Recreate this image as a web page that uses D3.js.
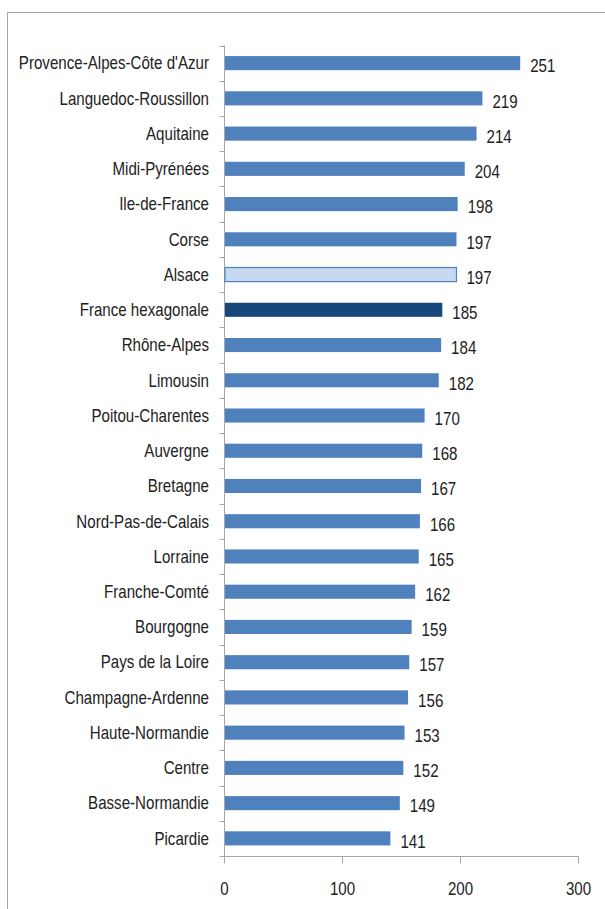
<!DOCTYPE html>
<html><head><meta charset="utf-8">
<script src="https://cdn.jsdelivr.net/npm/d3@7"></script>
<style>body{margin:0;background:#fff}svg{display:block}</style>
</head><body>
<script>
const categories = ["Provence-Alpes-Côte d'Azur","Languedoc-Roussillon","Aquitaine","Midi-Pyrénées","Ile-de-France","Corse","Alsace","France hexagonale","Rhône-Alpes","Limousin","Poitou-Charentes","Auvergne","Bretagne","Nord-Pas-de-Calais","Lorraine","Franche-Comté","Bourgogne","Pays de la Loire","Champagne-Ardenne","Haute-Normandie","Centre","Basse-Normandie","Picardie"];
const values = [251,219,214,204,198,197,197,185,184,182,170,168,167,166,165,162,159,157,156,153,152,149,141];
const xTicks = [0,100,200,300];
const highlight = {"Alsace":"light","France hexagonale":"dark"};

const W=605,H=909;
const svg=d3.select("body").append("svg").attr("width",W).attr("height",H);
svg.append("rect").attr("x",7.5).attr("y",12.5).attr("width",W).attr("height",H).attr("fill","none").attr("stroke","#a6a6a6").attr("stroke-width",1);

const font="'Liberation Sans',Arial,sans-serif";
const FS=18, SX=0.84;
function label(g,xx,yy,txt,anchor){
  const gg=g.append("g").attr("transform",`translate(${xx},${yy}) scale(${SX},1)`);
  gg.append("text").attr("x",0).attr("y",0).attr("dy","0.35em").attr("text-anchor",anchor)
    .attr("font-family",font).attr("font-size",FS).attr("fill","#222").text(txt);
}
const x=d3.scaleLinear().domain([0,300]).range([224,578]);
const y=d3.scaleBand().domain(categories).range([45.5,856]).paddingInner(0.6).paddingOuter(0.3);

// y axis
const yAxisG=svg.append("g").attr("transform","translate(224.5,0)");
yAxisG.append("line").attr("y1",45.5).attr("y2",856).attr("stroke","#a6a6a6");
d3.range(categories.length+1).forEach(i=>{
  const yy=Math.round(45.5+i*(856-45.5)/categories.length)+0.5;
  yAxisG.append("line").attr("x1",-5).attr("x2",0).attr("y1",yy).attr("y2",yy).attr("stroke","#a6a6a6");
});
categories.forEach(c=>{
  label(svg,209,y(c)+y.bandwidth()/2,c,"end");
});

// x axis
const xAxisG=svg.append("g").attr("transform","translate(0,856.5)");
xAxisG.append("line").attr("x1",224).attr("x2",578.5).attr("stroke","#a6a6a6");
xTicks.forEach(t=>{
  const xx=Math.round(x(t))+0.5;
  xAxisG.append("line").attr("x1",xx).attr("x2",xx).attr("y1",0).attr("y2",7).attr("stroke","#a6a6a6");
  label(xAxisG,xx,32,t,"middle");
});

// bars
categories.forEach((c,i)=>{
  const v=values[i];
  const kind=highlight[c];
  const fill=kind==="light"?"#c6d9f0":kind==="dark"?"#17487b":"#4f81bd";
  svg.append("rect").attr("x",x(0)+1).attr("y",y(c)).attr("width",x(v)-x(0)-1).attr("height",y.bandwidth())
    .attr("fill",fill).attr("stroke",kind==="light"?"#4f81bd":"none").attr("stroke-width",1.2);
  label(svg,x(v)+10,y(c)+y.bandwidth()/2+3,v,"start");
});
</script>
</body></html>
